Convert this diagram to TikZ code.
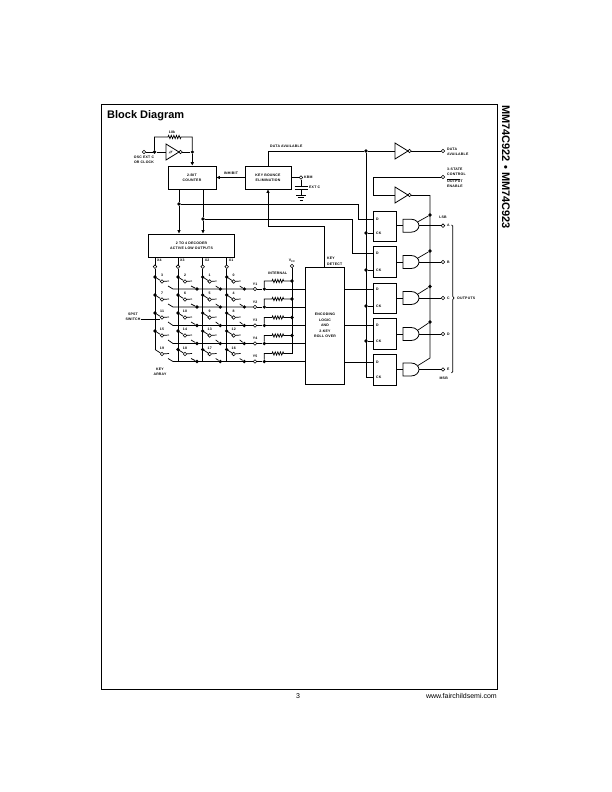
\documentclass[tikz,border=0pt]{standalone}
\usepackage{fontspec}
\setmainfont{Liberation Sans}
\newfontfamily\lblfont[LetterSpace=6]{Liberation Sans}
\usetikzlibrary{arrows.meta,decorations.pathmorphing}
\newcommand{\lblsize}{\lblfont\bfseries\fontsize{3.5}{5.4}\selectfont}
\tikzset{
  wire/.style={line width=0.7pt,black},
  block/.style={draw,line width=0.8pt,inner sep=0pt,align=center,font=\lblsize},
  lab/.style={inner sep=0pt,align=center,font=\lblsize},
  labl/.style={lab,anchor=west,align=left},
  pin/.style={circle,draw,line width=0.6pt,fill=white,inner sep=0pt,minimum size=3.6pt},
  dot/.style={circle,fill=black,inner sep=0pt,minimum size=3.6pt},
  arrowed/.style={-{Latex[length=3.4pt,width=3.6pt]}},
  zz/.style={decoration={zigzag,segment length=2.6pt,amplitude=1.6pt}},
  invgate/.pic={
    \draw[line width=0.8pt] (0,-8) -- (13,0) -- (0,8) -- cycle;
    \draw[line width=0.6pt,fill=white] (14.6,0) circle (1.7);
  },
  andgate/.pic={
    \draw[line width=0.8pt] (0,-6.5) -- (8,-6.5) .. controls (13,-6.5) and (16,-3) .. (16,0)
      .. controls (16,3) and (13,6.5) .. (8,6.5) -- (0,6.5) -- cycle;
  }
}
\begin{document}
\begin{tikzpicture}[x=1pt,y=-1pt]
\useasboundingbox (0,0) rectangle (612,792);
\fill[white] (0,0) rectangle (612,792);
\draw[line width=0.9pt] (101,104) rectangle (497,689);

% Page furniture
\node[anchor=west,inner sep=0pt,font=\bfseries\fontsize{11}{13}\selectfont] (title) at (107,115.5) {Block Diagram};
\node[anchor=west,rotate=-90,inner sep=0pt,font=\bfseries\fontsize{11}{13}\selectfont] (sidetitle) at (506,105) {MM74C922 • MM74C923};
\node[inner sep=0pt,font=\fontsize{7}{9}\selectfont] (pageno) at (298,696) {3};
\node[anchor=east,inner sep=0pt,font=\fontsize{7}{9}\selectfont] (web) at (497,696) {www.fairchildsemi.com};

% Main blocks
\node[block,minimum width=48pt,minimum height=23pt] (counter) at (192,177.5) {2-BIT\\COUNTER};
\node[block,minimum width=46pt,minimum height=23pt] (bounce) at (268,177.5) {KEY BOUNCE\\ELIMINATION};
\node[block,minimum width=86pt,minimum height=23pt] (decoder) at (191.5,245.5) {2 TO 4 DECODER\\ACTIVE LOW OUTPUTS};
\node[block,minimum width=38.5pt,minimum height=117pt] (enc) at (325,325.5) {ENCODING\\LOGIC\\AND\\2-KEY\\ROLL OVER};

% Oscillator input and feedback
\node[pin] (osc) at (144,152) {};
\node[lab] (osclab) at (144,160) {OSC EXT C\\OR CLOCK};
\node[dot] (oscj) at (154.5,152) {};
\node[dot] (oscout) at (192.3,152) {};
\pic at (166,152) {invgate};
\draw[line width=0.35pt] (168.5,153) -- (171,153) -- (171.6,151) -- (173,151) (169.6,153) -- (170.2,151) -- (171.6,151);
\coordinate (oscinv) at (166,152);
\coordinate (oscinvout) at (182.3,152);
\coordinate (fbl) at (154.5,137);
\coordinate (fbr) at (192.3,137);
\draw[wire] (osc) -- (oscj) -- (oscinv);
\draw[wire] (oscinvout) -- (oscout);
\draw[wire] (oscj) -- (fbl) -- (168,137) decorate[zz]{-- (181,137)} -- (fbr) -- (oscout);
\draw[wire,arrowed] (oscout) -- (oscout |- counter.north);
\node[lab] (rlab) at (172,132) {10k};

% Counter, bounce circuit and decoder connections
\draw[wire,arrowed] (bounce.west) -- (counter.east);
\node[lab] (inhibit) at (231,173) {INHIBIT};
\coordinate (cnt1) at (179,189);
\coordinate (cnt2) at (203,189);
\node[dot] (q1) at (179,204) {};
\node[dot] (q2) at (203,219) {};
\draw[wire,arrowed] (cnt1) -- (q1) -- (q1 |- decoder.north);
\draw[wire,arrowed] (cnt2) -- (q2) -- (q2 |- decoder.north);

% Debounce capacitor
\node[pin] (kbm) at (301,177.5) {};
\node[labl] (kbmlab) at (304,177.5) {KBM};
\node[labl] (extc) at (309,187) {EXT C};
\coordinate (capt) at (301,186);
\coordinate (capb) at (301,189.5);
\coordinate (gnd) at (301,195);
\draw[wire] (bounce.east |- kbm) -- (kbm);
\draw[wire] (kbm) -- (capt);
\draw[wire] (capb) -- (gnd);
\draw[line width=0.9pt] (294.5,186) -- (307.5,186) (294.5,189.5) -- (307.5,189.5);
\draw[wire] (296,195) -- (306,195) (297.8,197.5) -- (304.2,197.5) (299.5,200) -- (302.5,200);

% Data available path
\node[dot] (dav) at (366,151) {};
\coordinate (davtop) at (268,151);
\node[labl] (davlab) at (270,146) {DATA AVAILABLE};
\draw[wire] (bounce.north) -- (davtop) -- (dav);
\pic at (395,151) {invgate};
\coordinate (davin) at (395,151);
\coordinate (davout) at (411.3,151);
\node[pin] (davpin) at (443,151) {};
\draw[wire] (dav) -- (davin);
\draw[wire] (davout) -- (davpin);
\node[labl] (davp) at (447,151.5) {DATA\\AVAILABLE};

% Output enable path
\node[pin] (oepin) at (443,177) {};
\node[labl] (oe1) at (447,172) {3-STATE\\CONTROL};
\node[labl] (oe2) at (447,184) {OUTPUT\\ENABLE};
\draw[line width=0.35pt] ([yshift=1.1pt]oe2.north west) -- +(13,0);
\coordinate (oec1) at (373,177);
\coordinate (oec2) at (373,195);
\pic at (395,195) {invgate};
\coordinate (oein) at (395,195);
\coordinate (oeout) at (411.3,195);
\coordinate (oebus) at (430,195);
\draw[wire] (oepin) -- (oec1) -- (oec2) -- (oein);
\draw[wire] (oeout) -- (oebus);

% Output latches, gates and pins
\foreach \i/\c/\h/\dy/\ky/\gy/\nm in {1/226/30/219/233/225.7/A,2/261.5/31/253/270/262/B,3/298/30/289/306/298/C,4/333.5/31/325/341/334/D,5/369.5/31/362/377/369.5/E}{
  \node[block,minimum width=23pt,minimum height=\h pt] (ff\i) at (384.5,\c) {};
  \node[labl] (dlab\i) at (376,\dy) {D};
  \node[labl] (cklab\i) at (376,\ky) {CK};
  \pic at (403,\gy) {andgate};
  \coordinate (gin\i) at (403,\gy);
  \coordinate (gout\i) at (419,\gy);
  \coordinate (gen\i) at (418,\gy-4);
  \node[pin] (out\i) at (443,\gy) {};
  \node[labl] (outlab\i) at (447,\gy) {\nm};
  \draw[wire] (ff\i.east |- gin\i) -- (gin\i);
  \draw[wire] (gout\i) -- (out\i);
}
\foreach \i/\y in {1/215,2/251,3/286.5,4/322}{
  \node[dot] (en\i) at (430,\y) {};
  \draw[wire] (en\i) -- (gen\i);
}
\coordinate (en5) at (430,358);
\draw[wire] (oebus) -- (en5) -- (gen5);

% Clock bus
\foreach \i in {1,2,3,4}{
  \node[dot] (ckj\i) at (366,0 |- cklab\i) {};
  \draw[wire] (ckj\i) -- (ff\i.west |- ckj\i);
}
\coordinate (ckend) at (366,377);
\draw[wire] (dav) -- (ckend) -- (ff5.west |- ckend);

% Latch data inputs
\coordinate (w1a) at (358,204);
\coordinate (w1b) at (358,219);
\coordinate (w2a) at (352,219);
\coordinate (w2b) at (352,253);
\draw[wire] (q1) -- (w1a) -- (w1b) -- (ff1.west |- w1b);
\draw[wire] (q2) -- (w2a) -- (w2b) -- (ff2.west |- w2b);
\foreach \i in {3,4,5}{
  \draw[wire] (enc.east |- dlab\i) -- (ff\i.west |- dlab\i);
}

% Key detect feedback
\coordinate (kd1) at (324.5,226);
\coordinate (kd2) at (268,226);
\node[labl] (kdlab) at (327,261.5) {KEY\\DETECT};
\draw[wire,arrowed] (enc.north -| kd1) -- (kd1) -- (kd2) -- (bounce.south);

% Output labels and bracket
\node[lab] (lsb) at (443,217) {LSB};
\node[lab] (msb) at (443.7,378) {MSB};
\node[labl] (outputs) at (457,298) {OUTPUTS};
\draw[wire] (451.5,225) -- (452.8,226) -- (452.8,296.5) -- (454,298) -- (452.8,299.5) -- (452.8,371.5) -- (451.5,373);

% Key matrix columns
\foreach \ci/\cx/\xl in {1/155/X4,2/178/X3,3/202.7/X2,4/226.7/X1}{
  \node[pin] (col\ci) at (\cx,266.7) {};
  \node[labl] (collab\ci) at (\cx+2,260) {\xl};
  \draw[wire] (col\ci |- decoder.south) -- (col\ci);
}

% Switch cells: upper contact on the column, lower contact on the row
\foreach \ci/\cx in {1/155,2/178,3/202.7,4/226.7}{
  \foreach \ri/\ry in {1/289,2/307,3/325,4/343,5/361.5}{
    \pgfmathtruncatemacro{\num}{4*(\ri-1)+4-\ci}
    \node[pin] (sw\ci\ri) at (\cx+7,\ry-7.5) {};
    \node[lab] (swn\ci\ri) at (\cx+7,\ry-13.3) {\num};
    \coordinate (st\ci\ri) at (\cx+14,\ry-8);
    \coordinate (lo\ci\ri) at (\cx+13,\ry-3);
    \draw[wire] (sw\ci\ri) -- (st\ci\ri);
    \coordinate (upj\ci\ri) at (\cx,\ry-12);
    \draw[wire] (upj\ci\ri) -- (sw\ci\ri);
  }
}
\foreach \ci/\cx in {2/178,3/202.7,4/226.7}{
  \foreach \ri in {1,2,3,4,5}{
    \node[dot] at (upj\ci\ri) {};
  }
  \coordinate (colend\ci) at (\cx,361.5);
  \draw[wire] (col\ci) -- (colend\ci);
}
\foreach \ri in {1,2,3,4}{
  \node[dot] at (upj1\ri) {};
}
\draw[wire] (col1) -- (upj15);

% Rows, pull-up resistors and supply
\node[pin] (vcc) at (292,266) {};
\node[lab] (vcclab) at (292,260.5) {V{\raisebox{-0.7pt}{\fontsize{2.6}{3}\selectfont CC}}};
\node[lab] (internal) at (277.7,273.7) {INTERNAL};
\foreach \ri/\ry in {1/289,2/307,3/325.5,4/343.5,5/361.5}{
  \coordinate (rs\ri) at (173,\ry);
  \node[pin] (y\ri) at (255,\ry) {};
  \node[lab] (ylab\ri) at (255,\ry-5) {Y\ri};
  \node[dot] (yj\ri) at (264.3,\ry) {};
  \coordinate (rc\ri) at (264.3,\ry-8);
  \coordinate (rv\ri) at (292,\ry-8);
  \draw[wire] (lo1\ri) -- (rs\ri) -- (y\ri);
  \draw[wire] (y\ri) -- (yj\ri) -- (enc.west |- yj\ri);
  \draw[wire] (yj\ri) -- (rc\ri) -- (272,\ry-8) decorate[zz]{-- (284,\ry-8)} -- (rv\ri);
  \foreach \ci/\dx in {2/197,3/220.3,4/244.3}{
    \node[dot] (rd\ci\ri) at (\dx,\ry) {};
    \draw[wire] (lo\ci\ri) -- (rd\ci\ri);
  }
}
\foreach \ri in {1,2,3,4}{
  \node[dot] at (rv\ri) {};
}
\draw[wire] (vcc) -- (rv5);

% Switch callout and array caption
\node[lab] (spst) at (133,317) {SPST\\SWITCH};
\draw[line width=0.35pt] (spst.east |- 0,319) -- (sw13.west |- 0,319);
\node[lab] (array) at (160,372) {KEY\\ARRAY};
\end{tikzpicture}
\end{document}
